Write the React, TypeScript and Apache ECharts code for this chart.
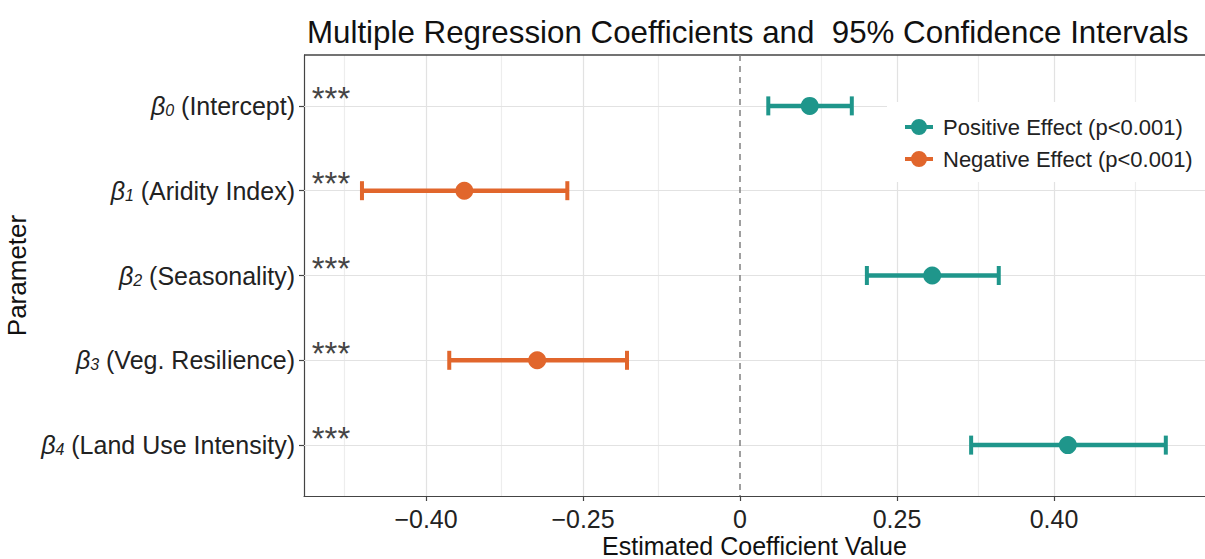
import React, { useEffect, useRef } from "react";
import * as echarts from "echarts";

const FONT = "'Liberation Sans', Arial, Helvetica, sans-serif";
const TEAL = "#1F968B";
const ORANGE = "#E1662C";

const paramNames = ["Intercept", "Aridity Index", "Seasonality", "Veg. Resilience", "Land Use Intensity"];
const paramSubscripts = ["0", "1", "2", "3", "4"];
const estimates = [0.111, -0.439, 0.306, -0.323, 0.522];
const lowerCI = [0.045, -0.602, 0.202, -0.463, 0.368];
const upperCI = [0.178, -0.275, 0.412, -0.18, 0.678];
const significance = ["***", "***", "***", "***", "***"];

const xTickValues = [-0.5, -0.25, 0, 0.25, 0.5];
const xTickLabels = ["\u22120.40", "\u22120.25", "0", "0.25", "0.40"];
const xGridValues = [-0.625, -0.5, -0.375, -0.25, -0.125, 0.125, 0.25, 0.375, 0.5, 0.625];
const X_MIN = -0.6943;
const X_MAX = 0.7404;
const STAR_X = -0.682;

const POS_NAME = "Positive Effect (p<0.001)";
const NEG_NAME = "Negative Effect (p<0.001)";
const LEGEND_ICON = "path://M0,6 L28,6 L28,10 L0,10 Z M6,8 A8,8 0 1,1 22,8 A8,8 0 1,1 6,8 Z";

export default function App() {
  const ref = useRef<HTMLDivElement>(null);
  useEffect(() => {
    if (!ref.current) return;
    const chart = echarts.init(ref.current, null, { renderer: "svg" });
    const yPos = paramNames.map((_, i) => i + 1);
    const errData = paramNames.map((_, i) => [lowerCI[i], upperCI[i], yPos[i], estimates[i]]);
    const posData = paramNames.map((_, i) => [estimates[i], yPos[i]]).filter((_, i) => estimates[i] >= 0);
    const negData = paramNames.map((_, i) => [estimates[i], yPos[i]]).filter((_, i) => estimates[i] < 0);
    const starData = paramNames.map((_, i) => ({ value: [STAR_X, yPos[i]], sig: significance[i] }));

    const axisLineStyle = { color: "#444", width: 1.2 };
    const findLabel = (v: number) => {
      const i = xTickValues.findIndex((t) => Math.abs(t - v) < 1e-9);
      return i >= 0 ? xTickLabels[i] : "";
    };

    chart.setOption({
      animation: false,
      title: {
        text: "Multiple Regression Coefficients and  95% Confidence Intervals",
        left: 307,
        top: 17,
        padding: 0,
        textStyle: { fontFamily: FONT, fontSize: 31.3, fontWeight: "normal", color: "#111" },
      },
      legend: {
        data: [
          { name: POS_NAME, icon: LEGEND_ICON },
          { name: NEG_NAME, icon: LEGEND_ICON },
        ],
        orient: "vertical",
        left: 887,
        top: 102,
        padding: [14, 30, 12, 18],
        itemWidth: 28,
        itemHeight: 16,
        itemGap: 10,
        backgroundColor: "#fff",
        selectedMode: false,
        z: 10,
        textStyle: { fontFamily: FONT, fontSize: 22, color: "#222", padding: [0, 0, 0, 5] },
      },
      grid: { left: 304, right: 0, top: 55, bottom: 63, containLabel: false, outerBoundsMode: "none" },
      xAxis: {
        type: "value",
        min: X_MIN,
        max: X_MAX,
        name: "Estimated Coefficient Value",
        nameLocation: "middle",
        nameGap: 37,
        nameMoveOverlap: false,
        nameTextStyle: { fontFamily: FONT, fontSize: 25, color: "#111", lineHeight: 25 },
        axisLine: { show: true, onZero: false, lineStyle: axisLineStyle },
        axisTick: { show: true, customValues: xTickValues, length: 5, lineStyle: axisLineStyle },
        axisLabel: {
          customValues: xTickValues,
          formatter: (v: number) => findLabel(v),
          fontFamily: FONT,
          fontSize: 25,
          margin: 10,
          color: "#222",
        },
        splitLine: { show: false },
      },
      yAxis: {
        type: "value",
        inverse: true,
        min: 0.4,
        max: 5.6,
        name: "Parameter",
        nameLocation: "middle",
        nameGap: 274,
        nameMoveOverlap: false,
        nameRotate: 90,
        nameTextStyle: { fontFamily: FONT, fontSize: 26, color: "#111" },
        axisLine: { show: true, onZero: false, lineStyle: axisLineStyle },
        axisTick: { show: true, customValues: yPos, length: 5, lineStyle: axisLineStyle },
        axisLabel: {
          customValues: yPos,
          margin: 9,
          formatter: (v: number) => {
            const i = Math.round(v) - 1;
            if (i < 0 || i >= paramNames.length) return "";
            return `{b|\u03B2}{s|${paramSubscripts[i]}}{t| (${paramNames[i]})}`;
          },
          rich: {
            b: { fontFamily: FONT, fontSize: 25, fontStyle: "italic", color: "#222" },
            s: { fontFamily: FONT, fontSize: 16, fontStyle: "italic", color: "#222", verticalAlign: "bottom", padding: [8, 0, 0, 0] },
            t: { fontFamily: FONT, fontSize: 25, color: "#222" },
          },
        },
        splitLine: { show: false },
      },
      series: [
        {
          type: "scatter",
          name: "grid",
          data: [],
          silent: true,
          z: 1,
          markLine: {
            silent: true,
            symbol: "none",
            z: 1,
            animation: false,
            label: { show: false },
            data: [
              ...xGridValues.map((v) => ({
                xAxis: v,
                lineStyle: { color: xTickValues.includes(v) ? "#E2E2E2" : "#EDEDED", width: 1.2, type: "solid" },
              })),
              ...yPos.map((v) => ({ yAxis: v, lineStyle: { color: "#E2E2E2", width: 1.2, type: "solid" } })),
              { yAxis: 0.4, lineStyle: { color: "#444", width: 1.5, type: "solid" } },
              { xAxis: 0, lineStyle: { color: "#808080", width: 1.5, type: [6, 5] } },
            ],
          },
        },
        {
          type: "custom",
          name: "errorbars",
          z: 3,
          silent: true,
          data: errData,
          encode: { x: [0, 1], y: 2 },
          renderItem: (params: any, api: any) => {
            const lo = api.value(0);
            const hi = api.value(1);
            const y = api.value(2);
            const est = api.value(3);
            const a = api.coord([lo, y]);
            const b = api.coord([hi, y]);
            const color = est >= 0 ? TEAL : ORANGE;
            const capH = 19;
            const capW = 4;
            return {
              type: "group",
              children: [
                { type: "line", shape: { x1: a[0], y1: a[1], x2: b[0], y2: b[1] }, style: { stroke: color, lineWidth: 4.5 } },
                { type: "rect", shape: { x: a[0] - capW / 2, y: a[1] - capH / 2, width: capW, height: capH }, style: { fill: color } },
                { type: "rect", shape: { x: b[0] - capW / 2, y: b[1] - capH / 2, width: capW, height: capH }, style: { fill: color } },
              ],
            };
          },
        },
        {
          type: "scatter",
          name: POS_NAME,
          data: posData,
          symbol: "circle",
          symbolSize: 18,
          z: 4,
          itemStyle: { color: TEAL, opacity: 1 },
        },
        {
          type: "scatter",
          name: NEG_NAME,
          data: negData,
          symbol: "circle",
          symbolSize: 18,
          z: 4,
          itemStyle: { color: ORANGE, opacity: 1 },
        },
        {
          type: "scatter",
          name: "stars",
          data: starData,
          symbolSize: 0,
          silent: true,
          z: 5,
          label: {
            show: true,
            position: "right",
            distance: 0,
            offset: [0, -7],
            formatter: (p: any) => p.data.sig,
            fontFamily: FONT,
            fontSize: 33,
            color: "#111",
          },
        },
      ],
    });
    return () => chart.dispose();
  }, []);
  return <div ref={ref} style={{ position: "fixed", left: 0, top: 0, width: 1205, height: 559, background: "#fff" }} />;
}
